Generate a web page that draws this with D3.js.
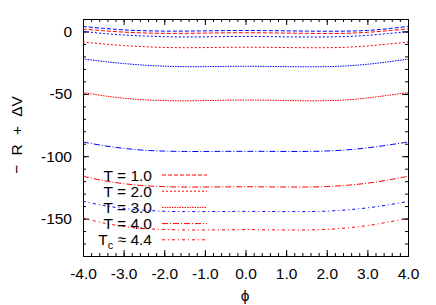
<!DOCTYPE html>
<html>
<head>
<meta charset="utf-8">
<script src="https://cdn.jsdelivr.net/npm/d3@7"></script>
<style>
  body { margin: 0; background: #fff; }
  svg { display: block; font-family: "Liberation Sans", Arial, sans-serif; }
</style>
</head>
<body>
<div id="chart"></div>
<script>
const svgWidth = 436;
const svgHeight = 305;

const margin = { top: 19, right: 28, bottom: 49, left: 83 };

// field values phi
const phi = [-4.0, -3.5, -3.0, -2.5, -2.0, -1.5, -1.0, -0.5, 0.0, 0.5, 1.0, 1.5, 2.0, 2.5, 3.0, 3.5, 4.0];

// -R + dV, one blue and one red curve per temperature
const t10Blue = [4.0, 2.5, 1.3, 0.6, 0.3, 0.3, 0.5, 0.7, 0.8, 0.7, 0.5, 0.3, 0.2, 0.3, 0.8, 2.2, 4.0];
const t10Red  = [2.0, 0.6, -0.5, -1.2, -1.5, -1.5, -1.3, -1.1, -1.0, -1.1, -1.3, -1.5, -1.6, -1.4, -0.7, 0.6, 2.0];
const t20Blue = [0.0, -1.6, -2.8, -3.6, -4.2, -4.4, -4.3, -4.1, -4.0, -4.1, -4.3, -4.4, -4.4, -4.0, -3.1, -1.7, -0.1];
const t20Red  = [-8.4, -10.0, -11.3, -12.2, -12.8, -13.0, -12.9, -12.7, -12.6, -12.7, -12.9, -13.0, -13.0, -12.6, -11.6, -10.1, -8.6];
const t30Blue = [-22.0, -24.0, -25.7, -27.0, -27.8, -28.2, -28.2, -28.0, -27.9, -28.0, -28.2, -28.3, -28.2, -27.6, -26.3, -24.4, -22.2];
const t30Red  = [-48.9, -51.5, -53.5, -54.8, -55.4, -55.6, -55.4, -55.1, -55.0, -55.1, -55.4, -55.6, -55.5, -54.8, -53.3, -51.2, -49.0];
const t40Blue = [-88.6, -91.5, -93.7, -95.2, -95.9, -96.2, -96.2, -96.1, -96.1, -96.1, -96.2, -96.2, -95.8, -94.9, -93.3, -91.1, -88.6];
const t40Red  = [-116.1, -119.5, -122.0, -123.6, -124.4, -124.7, -124.7, -124.6, -124.5, -124.6, -124.7, -124.7, -124.3, -123.3, -121.6, -119.2, -116.1];
const tcBlue  = [-136.2, -139.5, -141.8, -143.3, -144.1, -144.4, -144.4, -144.3, -144.2, -144.3, -144.4, -144.4, -144.0, -143.0, -141.4, -139.1, -136.4];
const tcRed   = [-149.6, -153.5, -156.3, -158.0, -158.8, -159.1, -159.1, -159.0, -158.9, -159.0, -159.1, -159.1, -158.6, -157.5, -155.6, -152.9, -149.8];

const legendLabels = ['T = 1.0', 'T = 2.0', 'T = 3.0', 'T = 4.0', 'Tc'];
const dashes = ['4,2', '2,2', '1.5,1', '6,2,1,2', '3,3,1,3'];

const xTicks = [-4, -3, -2, -1, 0, 1, 2, 3, 4];
const yTicks = [-150, -100, -50, 0];

const curves = [
    { values: t10Blue, color: '#0000ff', style: 0 },
    { values: t10Red,  color: '#ff0000', style: 0 },
    { values: t20Blue, color: '#0000ff', style: 1 },
    { values: t20Red,  color: '#ff0000', style: 1 },
    { values: t30Blue, color: '#0000ff', style: 2 },
    { values: t30Red,  color: '#ff0000', style: 2 },
    { values: t40Blue, color: '#0000ff', style: 3 },
    { values: t40Red,  color: '#ff0000', style: 3 },
    { values: tcBlue,  color: '#0000ff', style: 4 },
    { values: tcRed,   color: '#ff0000', style: 4 }
];

const width = svgWidth - margin.left - margin.right;
const height = svgHeight - margin.top - margin.bottom;

const svg = d3.select('#chart')
    .append('svg')
    .attr('width', svgWidth)
    .attr('height', svgHeight);

const x = d3.scaleLinear().domain([-4, 4]).range([margin.left, margin.left + width]);
const y = d3.scaleLinear().domain([-180, 10]).range([margin.top + height, margin.top]);

const minorX = d3.range(-4, 4.001, 0.2);
const minorY = d3.range(-180, 10.001, 10);

// gnuplot style labels use a plain hyphen
const fmtX = d => d3.format('.1f')(d).replace('\u2212', '-');
const fmtY = d => d3.format('d')(d).replace('\u2212', '-');

function styleAxis(g) {
    g.select('.domain').remove();
    g.selectAll('.tick line').attr('stroke', '#000');
    g.selectAll('text').attr('font-size', 15.5).attr('fill', '#000')
        .attr('font-family', '"Liberation Sans", Arial, sans-serif');
}

// minor ticks
svg.append('g').attr('transform', `translate(0,${margin.top + height})`)
    .call(d3.axisBottom(x).tickValues(minorX).tickSize(-3).tickFormat(''))
    .call(styleAxis);
svg.append('g').attr('transform', `translate(0,${margin.top})`)
    .call(d3.axisTop(x).tickValues(minorX).tickSize(-3).tickFormat(''))
    .call(styleAxis);
svg.append('g').attr('transform', `translate(${margin.left},0)`)
    .call(d3.axisLeft(y).tickValues(minorY).tickSize(-3).tickFormat(''))
    .call(styleAxis);
svg.append('g').attr('transform', `translate(${margin.left + width},0)`)
    .call(d3.axisRight(y).tickValues(minorY).tickSize(-3).tickFormat(''))
    .call(styleAxis);

// major ticks
svg.append('g').attr('transform', `translate(0,${margin.top + height})`)
    .call(d3.axisBottom(x).tickValues(xTicks).tickSize(-6).tickPadding(12).tickFormat(fmtX))
    .call(styleAxis);
svg.append('g').attr('transform', `translate(0,${margin.top})`)
    .call(d3.axisTop(x).tickValues(xTicks).tickSize(-6).tickFormat(''))
    .call(styleAxis);
svg.append('g').attr('transform', `translate(${margin.left},0)`)
    .call(d3.axisLeft(y).tickValues(yTicks).tickSize(-6).tickPadding(11).tickFormat(fmtY))
    .call(styleAxis);
svg.append('g').attr('transform', `translate(${margin.left + width},0)`)
    .call(d3.axisRight(y).tickValues(yTicks).tickSize(-6).tickFormat(''))
    .call(styleAxis);

// frame
svg.append('rect')
    .attr('x', margin.left + 0.5)
    .attr('y', margin.top + 0.5)
    .attr('width', width)
    .attr('height', height)
    .attr('fill', 'none')
    .attr('stroke', '#000')
    .attr('stroke-width', 1);

// curves
const line = d3.line()
    .x((d, i) => x(phi[i]))
    .y(d => y(d))
    .curve(d3.curveCatmullRom);

svg.append('g').selectAll('path')
    .data(curves)
    .join('path')
    .attr('d', d => line(d.values))
    .attr('fill', 'none')
    .attr('stroke', d => d.color)
    .attr('stroke-width', 1)
    .attr('stroke-dasharray', d => dashes[d.style]);

// legend
const legend = svg.append('g');
legendLabels.forEach((lab, i) => {
    const ly = 175 + i * 16.2;
    const t = legend.append('text')
        .attr('x', 152)
        .attr('y', ly + 5.5)
        .attr('text-anchor', 'end')
        .attr('font-size', 15.5)
        .attr('fill', '#000');
    if (lab === 'Tc') {
        t.append('tspan').text('T');
        t.append('tspan').attr('font-size', 11).attr('dy', 4).text('c');
        t.append('tspan').attr('dy', -4).text(' \u2248 4.4');
    } else {
        t.text(lab);
    }
    legend.append('line')
        .attr('x1', 162).attr('x2', 207)
        .attr('y1', ly).attr('y2', ly)
        .attr('stroke', '#ff0000')
        .attr('stroke-width', 1)
        .attr('stroke-dasharray', dashes[i]);
});

// axis titles
svg.append('text')
    .attr('transform', 'translate(22,135) rotate(-90)')
    .attr('text-anchor', 'middle')
    .attr('font-size', 15.5)
    .attr('word-spacing', 5)
    .attr('fill', '#000')
    .text('\u2212 R + \u0394V');

svg.append('text')
    .attr('x', 245)
    .attr('y', 301)
    .attr('text-anchor', 'middle')
    .attr('font-size', 15.5)
    .attr('fill', '#000')
    .text('\u03d5');
</script>
</body>
</html>
